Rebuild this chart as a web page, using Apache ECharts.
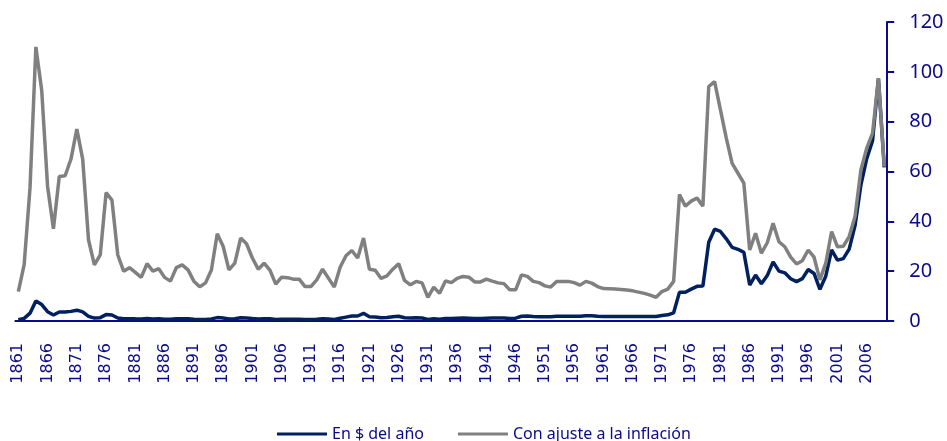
<!DOCTYPE html>
<html>
<head>
<meta charset="utf-8">
<script src="https://cdn.jsdelivr.net/npm/echarts@6/dist/echarts.min.js"></script>
<style>
  html, body { margin: 0; padding: 0; background: #fff; }
  #chart { width: 947px; height: 441px; }
</style>
</head>
<body>
<div id="chart"></div>
<script>
// años 1861..2009
const startYear = 1861
const years = []
for (let y = startYear; y <= 2009; y++) years.push(String(y))

// precio en $ del año
const nominal = [
  0.49, 1.05, 3.15, 8.06, 6.59, 3.74, 2.41, 3.63, 3.64, 3.86,
  4.34, 3.64, 1.83, 1.17, 1.35, 2.56, 2.42, 1.19, 0.86, 0.95,
  0.86, 0.78, 1.00, 0.84, 0.88, 0.71, 0.67, 0.88, 0.94, 0.87,
  0.67, 0.56, 0.64, 0.84, 1.36, 1.18, 0.79, 0.91, 1.29, 1.19,
  0.96, 0.80, 0.94, 0.86, 0.62, 0.73, 0.72, 0.72, 0.70, 0.61,
  0.61, 0.74, 0.95, 0.81, 0.64, 1.10, 1.56, 1.98, 2.01, 3.07,
  1.73, 1.61, 1.34, 1.43, 1.68, 1.88, 1.30, 1.17, 1.27, 1.19,
  0.65, 0.87, 0.67, 1.00, 0.97, 1.09, 1.18, 1.13, 1.02, 1.02,
  1.14, 1.19, 1.20, 1.21, 1.05, 1.12, 1.90, 1.99, 1.78, 1.71,
  1.71, 1.71, 1.93, 1.93, 1.93, 1.93, 1.90, 2.08, 2.08, 1.90,
  1.80, 1.80, 1.80, 1.80, 1.80, 1.80, 1.80, 1.80, 1.80, 1.80,
  2.24, 2.48, 3.29, 11.58, 11.53, 12.80, 13.92, 14.02, 31.61, 36.83,
  35.93, 32.97, 29.55, 28.78, 27.56, 14.43, 18.44, 14.92, 18.23, 23.73,
  20.00, 19.32, 16.97, 15.82, 17.02, 20.67, 19.09, 12.72, 17.97, 28.50,
  24.44, 25.02, 28.83, 38.27, 54.52, 65.14, 72.39, 97.26, 61.67
]

// con ajuste a la inflación
const real = [
  11.8, 22.6, 53.5, 110, 92.5, 54, 37, 58, 58.3, 65,
  77, 65, 32.5, 22.5, 26.5, 51.5, 48.5, 26.5, 20, 21.4,
  19.5, 17.5, 23, 20, 21, 17.5, 16, 21.4, 22.5, 20.5,
  16, 13.7, 15.3, 20.5, 35, 30, 20.5, 23.2, 33.3, 31,
  25.3, 20.8, 23.2, 20.4, 14.8, 17.6, 17.4, 16.8, 16.8, 13.8,
  13.8, 16.5, 20.8, 17.2, 13.6, 21.6, 26.2, 28.3, 25.3, 33.3,
  20.8, 20.4, 17.1, 18.1, 20.8, 23, 16.3, 14.5, 15.9, 15.3,
  9.5, 13.6, 11.1, 16.1, 15.4, 17.1, 17.9, 17.6, 15.7, 15.7,
  16.8, 16, 15.3, 15, 12.5, 12.5, 18.5, 17.9, 15.9, 15.4,
  14.1, 13.6, 15.9, 15.9, 15.9, 15.4, 14.4, 15.9, 15.2, 13.8,
  13, 12.9, 12.8, 12.6, 12.4, 12.1, 11.6, 11.1, 10.4, 9.5,
  11.8, 12.8, 15.9, 50.8, 46.1, 48.1, 49.4, 46.1, 94.1, 96.1,
  84.7, 73.4, 63.3, 59.3, 55.3, 28.5, 35.2, 27.2, 31.4, 39.2,
  31.8, 29.8, 25.6, 22.9, 24.2, 28.5, 25.6, 16.5, 23.2, 35.9,
  29.8, 30, 33.9, 41.9, 60.6, 69.4, 75.4, 97.5, 62
]

const axisColor = '#0a0a8a'

const chart = echarts.init(document.getElementById('chart'))
chart.setOption({
  animation: false,
  backgroundColor: '#fff',
  grid: {
    left: 15.4,
    right: 59.8,
    top: 22,
    bottom: 120
  },
  legend: {
    left: 272,
    top: 421,
    itemWidth: 50,
    itemHeight: 3,
    itemGap: 34,
    icon: 'rect',
    textStyle: {
      color: axisColor,
      fontFamily: 'Noto Sans',
      fontSize: 16
    },
    data: ['En $ del año', 'Con ajuste a la inflación']
  },
  xAxis: {
    type: 'category',
    data: years,
    boundaryGap: true,
    axisLine: { lineStyle: { color: axisColor, width: 2 } },
    axisTick: { interval: 0, length: 5, lineStyle: { color: axisColor, width: 1 } },
    axisLabel: {
      interval: 4,
      rotate: 90,
      margin: 22,
      color: axisColor,
      fontFamily: 'DejaVu Sans',
      fontSize: 16
    },
    splitLine: { show: false }
  },
  yAxis: {
    type: 'value',
    position: 'right',
    min: 0,
    max: 120,
    interval: 20,
    axisLine: { show: true, lineStyle: { color: axisColor, width: 2 } },
    axisTick: { show: true, length: 7, lineStyle: { color: axisColor, width: 2 } },
    axisLabel: {
      margin: 22,
      color: axisColor,
      fontFamily: 'Noto Sans',
      fontSize: 20
    },
    splitLine: { show: false }
  },
  series: [
    {
      name: 'En $ del año',
      type: 'line',
      data: nominal,
      symbol: 'none',
      itemStyle: { color: '#002060' },
      lineStyle: { color: '#002060', width: 3.5 }
    },
    {
      name: 'Con ajuste a la inflación',
      type: 'line',
      data: real,
      symbol: 'none',
      itemStyle: { color: '#808080' },
      lineStyle: { color: '#808080', width: 3.5 }
    }
  ]
})
</script>
</body>
</html>
